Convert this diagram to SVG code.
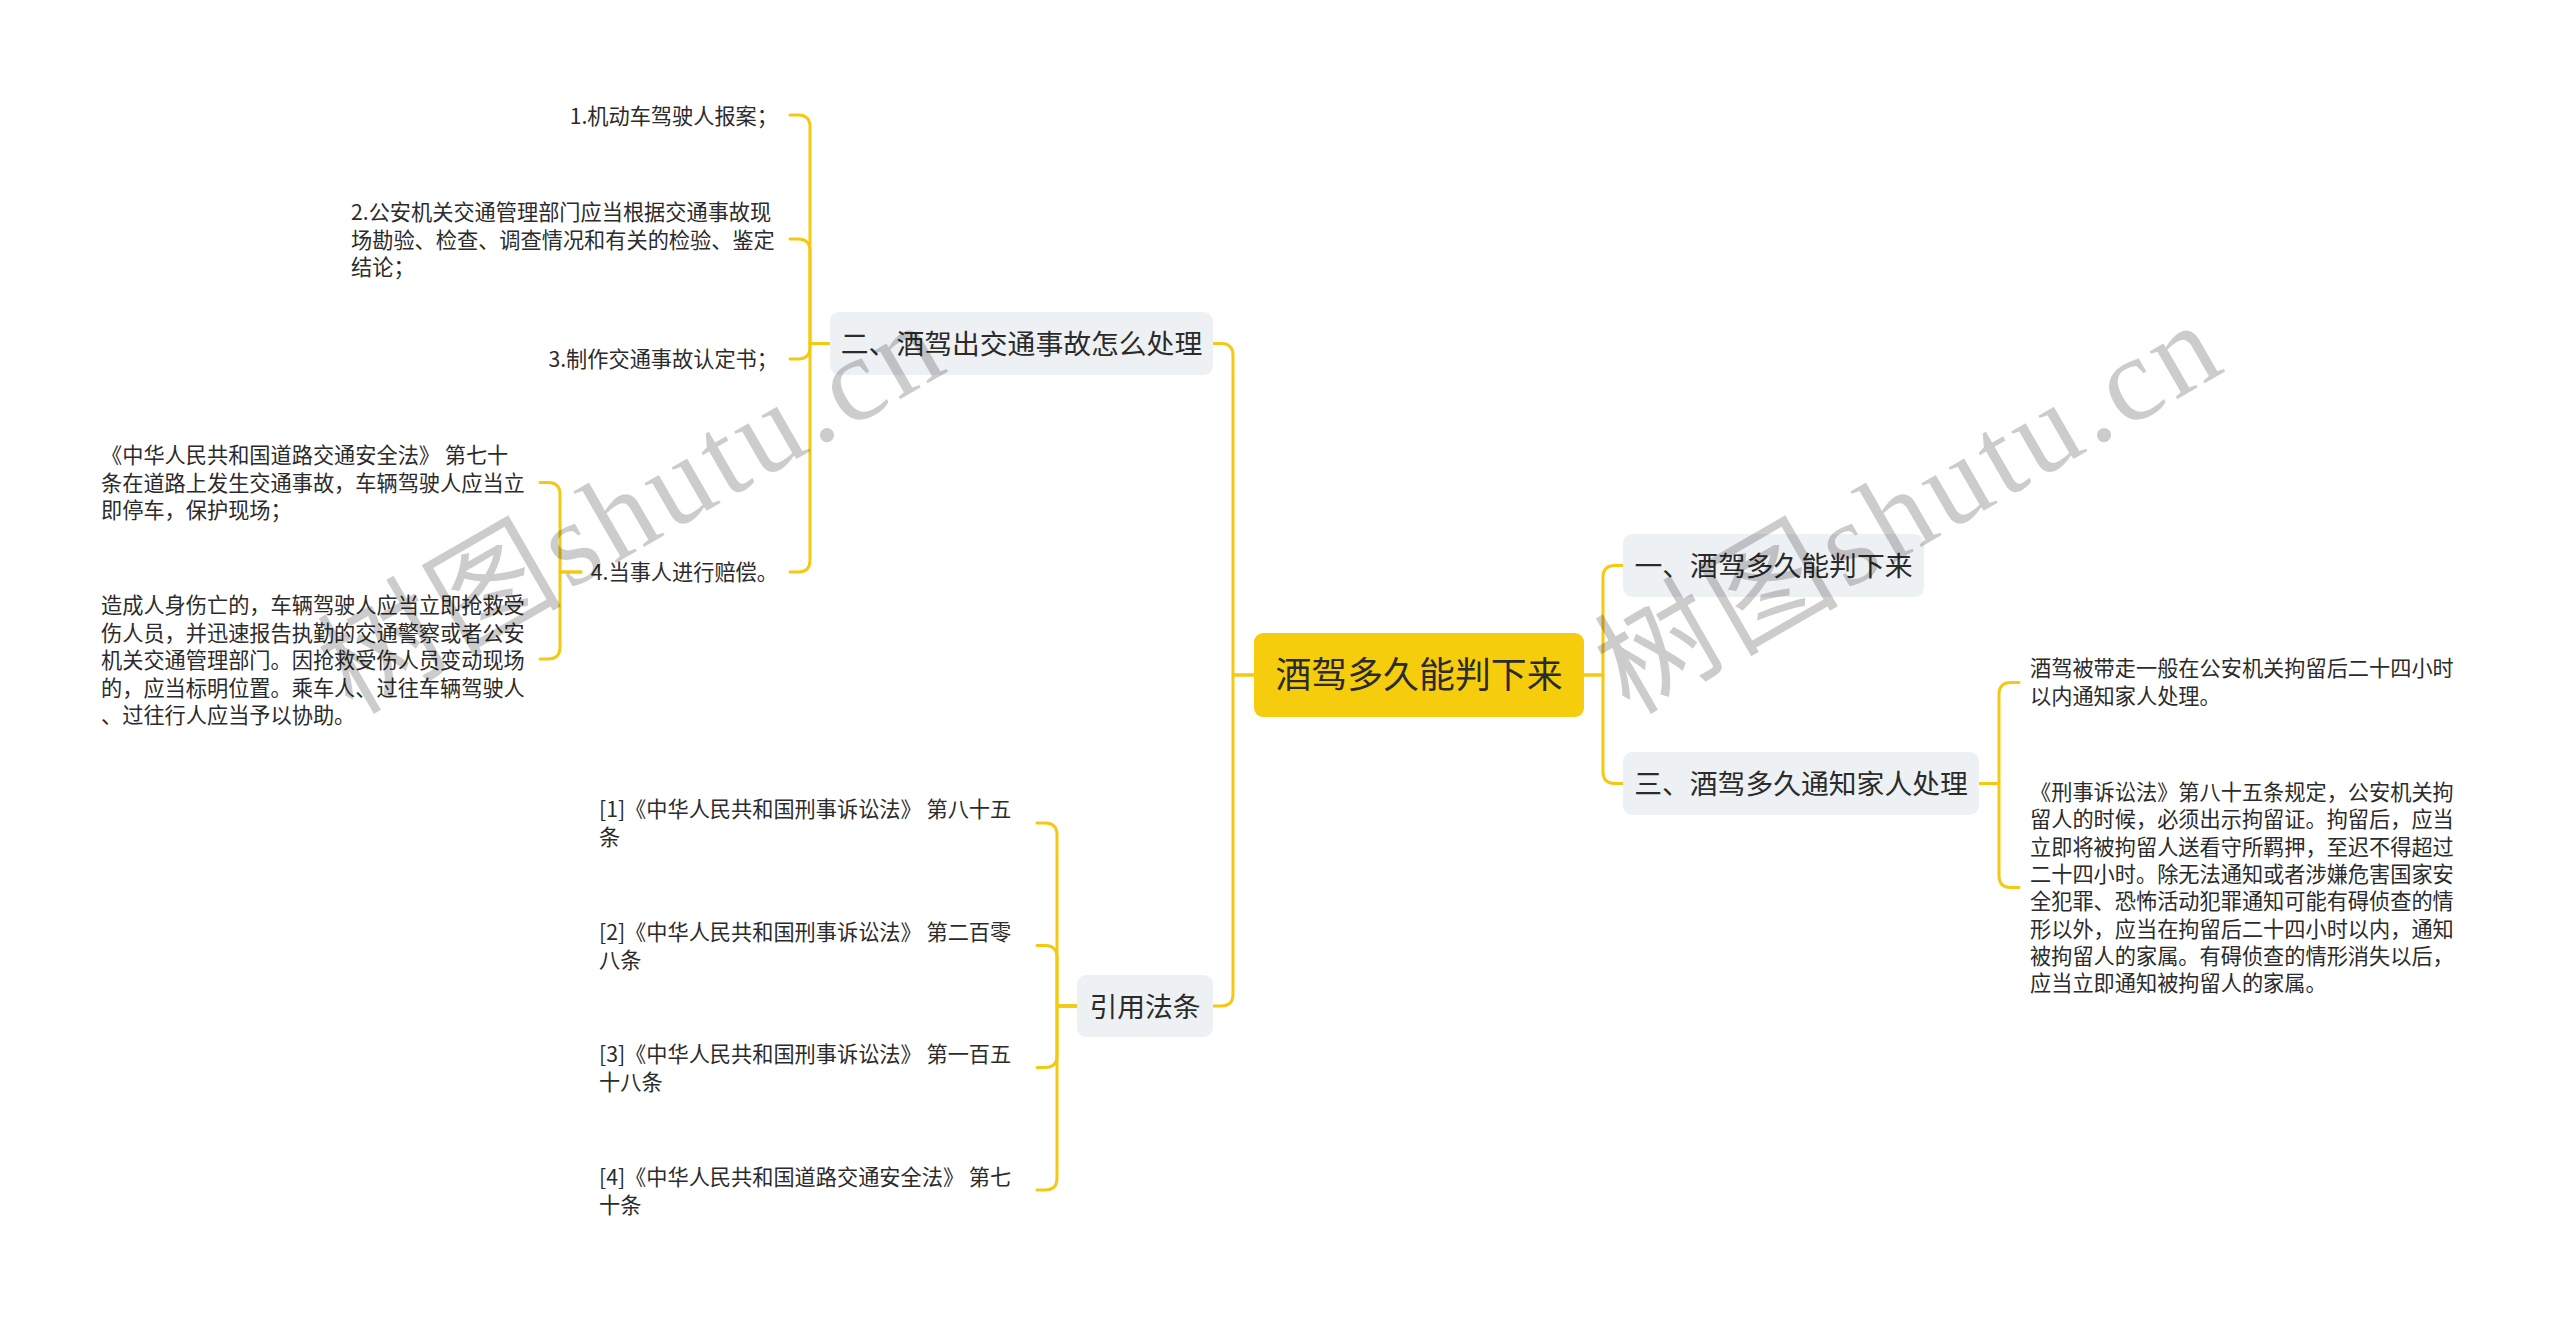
<svg xmlns="http://www.w3.org/2000/svg" width="2560" height="1319" viewBox="0 0 2560 1319">
<style>
text{font-family:"Noto Sans CJK SC","Microsoft YaHei",sans-serif;fill:#2b2b2b}
.t{font-size:21.2px}
.n1{font-size:27.8px;fill:#2b2b2b}
.c{font-size:35.9px;fill:#2b2b2b}
.box{fill:#eef1f4}
.root{fill:#f6cd0c}
.ln{fill:none;stroke:#f3c914;stroke-width:3;stroke-linecap:round;stroke-linejoin:round}
.wm{font-family:"Liberation Serif","Noto Sans CJK SC",serif;font-size:120px;fill:#000;fill-opacity:0.2}
</style>
<rect width="2560" height="1319" fill="#ffffff"/>
<g id="connectors">
<path class="ln" d="M1254 675 H1233 V355.5 Q1233 343.5 1221 343.5 H1213"/>
<path class="ln" d="M1254 675 H1233 V994 Q1233 1006 1221 1006 H1213"/>
<path class="ln" d="M1584 675 H1603 V577.5 Q1603 565.5 1615 565.5 H1623"/>
<path class="ln" d="M1584 675 H1603 V771.5 Q1603 783.5 1615 783.5 H1623"/>
<path class="ln" d="M1979 783.5 H1999 V694.5 Q1999 682.5 2011 682.5 H2019"/>
<path class="ln" d="M1979 783.5 H1999 V875.5 Q1999 887.5 2011 887.5 H2019"/>
<path class="ln" d="M830 343.5 H810 V127 Q810 115 798 115 H790"/>
<path class="ln" d="M830 343.5 H810 V251 Q810 239 798 239 H790"/>
<path class="ln" d="M830 343.5 H810 V347 Q810 359 798 359 H790"/>
<path class="ln" d="M830 343.5 H810 V560 Q810 572 798 572 H790"/>
<path class="ln" d="M581 572 H560 V494.5 Q560 482.5 548 482.5 H540"/>
<path class="ln" d="M581 572 H560 V647 Q560 659 548 659 H540"/>
<path class="ln" d="M1077 1006 H1057 V835 Q1057 823 1045 823 H1037"/>
<path class="ln" d="M1077 1006 H1057 V957.5 Q1057 945.5 1045 945.5 H1037"/>
<path class="ln" d="M1077 1006 H1057 V1055.5 Q1057 1067.5 1045 1067.5 H1037"/>
<path class="ln" d="M1077 1006 H1057 V1178 Q1057 1190 1045 1190 H1037"/>
</g>
<g id="root">
<rect class="root" x="1254" y="633" width="330" height="84" rx="9"/>
<text class="c" x="1419" y="688" text-anchor="middle">酒驾多久能判下来</text>
</g>
<g id="n-yi">
<rect class="box" x="1623" y="534" width="301" height="63" rx="9"/>
<text class="n1" x="1773.5" y="576" text-anchor="middle">一、酒驾多久能判下来</text>
</g>
<g id="n-san">
<rect class="box" x="1623" y="752" width="356" height="63" rx="9"/>
<text class="n1" x="1801" y="794" text-anchor="middle">三、酒驾多久通知家人处理</text>
</g>
<g id="n-er">
<rect class="box" x="830" y="312" width="383" height="63" rx="9"/>
<text class="n1" x="1021.5" y="354" text-anchor="middle">二、酒驾出交通事故怎么处理</text>
</g>
<g id="n-ref">
<rect class="box" x="1077" y="975" width="136" height="62" rx="9"/>
<text class="n1" x="1145" y="1016.5" text-anchor="middle">引用法条</text>
</g>
<g id="s-1">
<text class="t" x="778" y="124" text-anchor="end">1.机动车驾驶人报案；</text>
</g>
<g id="s-2">
<text class="t" x="351" y="220">2.公安机关交通管理部门应当根据交通事故现</text>
<text class="t" x="351" y="247.5">场勘验、检查、调查情况和有关的检验、鉴定</text>
<text class="t" x="351" y="275">结论；</text>
</g>
<g id="s-3">
<text class="t" x="778" y="367" text-anchor="end">3.制作交通事故认定书；</text>
</g>
<g id="s-4">
<text class="t" x="778" y="580" text-anchor="end">4.当事人进行赔偿。</text>
</g>
<g id="s-4a">
<text class="t" x="101" y="463">《中华人民共和国道路交通安全法》 第七十</text>
<text class="t" x="101" y="490.5">条在道路上发生交通事故，车辆驾驶人应当立</text>
<text class="t" x="101" y="518">即停车，保护现场；</text>
</g>
<g id="s-4b">
<text class="t" x="101" y="613">造成人身伤亡的，车辆驾驶人应当立即抢救受</text>
<text class="t" x="101" y="640.5">伤人员，并迅速报告执勤的交通警察或者公安</text>
<text class="t" x="101" y="668">机关交通管理部门。因抢救受伤人员变动现场</text>
<text class="t" x="101" y="695.5">的，应当标明位置。乘车人、过往车辆驾驶人</text>
<text class="t" x="101" y="723">、过往行人应当予以协助。</text>
</g>
<g id="r-1">
<text class="t" x="599" y="817">[1]《中华人民共和国刑事诉讼法》 第八十五</text>
<text class="t" x="599" y="844.5">条</text>
</g>
<g id="r-2">
<text class="t" x="599" y="940">[2]《中华人民共和国刑事诉讼法》 第二百零</text>
<text class="t" x="599" y="967.5">八条</text>
</g>
<g id="r-3">
<text class="t" x="599" y="1062">[3]《中华人民共和国刑事诉讼法》 第一百五</text>
<text class="t" x="599" y="1089.5">十八条</text>
</g>
<g id="r-4">
<text class="t" x="599" y="1185">[4]《中华人民共和国道路交通安全法》 第七</text>
<text class="t" x="599" y="1212.5">十条</text>
</g>
<g id="x-1">
<text class="t" x="2030" y="676">酒驾被带走一般在公安机关拘留后二十四小时</text>
<text class="t" x="2030" y="703.5">以内通知家人处理。</text>
</g>
<g id="x-2">
<text class="t" x="2030" y="800">《刑事诉讼法》第八十五条规定，公安机关拘</text>
<text class="t" x="2030" y="827.3">留人的时候，必须出示拘留证。拘留后，应当</text>
<text class="t" x="2030" y="854.6">立即将被拘留人送看守所羁押，至迟不得超过</text>
<text class="t" x="2030" y="881.9">二十四小时。除无法通知或者涉嫌危害国家安</text>
<text class="t" x="2030" y="909.2">全犯罪、恐怖活动犯罪通知可能有碍侦查的情</text>
<text class="t" x="2030" y="936.5">形以外，应当在拘留后二十四小时以内，通知</text>
<text class="t" x="2030" y="963.8">被拘留人的家属。有碍侦查的情形消失以后，</text>
<text class="t" x="2030" y="991.1">应当立即通知被拘留人的家属。</text>
</g>
<g id="watermarks">
<text class="wm" x="651" y="543" text-anchor="middle" textLength="690" lengthAdjust="spacing" transform="rotate(-30 651 543)">树图shutu.cn</text>
<text class="wm" x="1928" y="543" text-anchor="middle" textLength="690" lengthAdjust="spacing" transform="rotate(-30 1928 543)">树图shutu.cn</text>
</g>
</svg>
